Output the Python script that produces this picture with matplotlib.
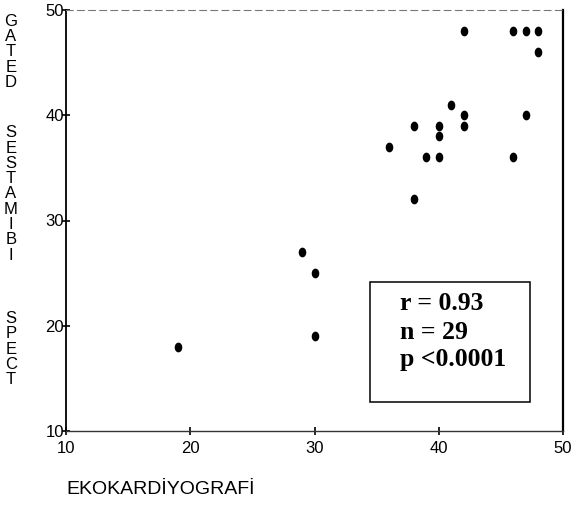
import matplotlib
matplotlib.use("Agg")
import matplotlib.pyplot as plt
import numpy as np
from matplotlib.path import Path
from matplotlib.patches import Rectangle

# ---- data ----
eko = [19, 29, 30, 30, 36, 38, 38, 39, 40, 40, 40, 41, 42, 42, 42, 46, 47, 48, 48, 47, 46]
spect = [18, 27, 25, 19, 37, 39, 32, 36, 36, 38, 39, 41, 40, 39, 48, 48, 48, 48, 46, 40, 36]
xticks = [10, 20, 30, 40, 50]
yticks = [10, 20, 30, 40, 50]
ylabel_words = ["GATED", "SESTAMIBI", "SPECT"]
xlabel = "EKOKARDİYOGRAFİ"
stats = ["r = 0.93", "n = 29", "p <0.0001"]

W, H = 576, 512
fig = plt.figure(figsize=(W / 100, H / 100), dpi=100)
ax = fig.add_axes([66 / W, 1 - 431 / H, (563 - 66) / W, (431 - 10) / H])

# elliptical marker (slightly taller than wide)
t = np.linspace(0, 2 * np.pi, 40)
ell = Path(np.column_stack([0.78 * np.cos(t), np.sin(t)]))
ax.plot(eko, spect, linestyle="none", marker=ell, markersize=7,
        color="black", markeredgewidth=0)

ax.set_xlim(10, 50)
ax.set_ylim(10, 50)
ax.set_xticks(xticks)
ax.set_yticks(yticks)
ax.set_xticklabels([str(v) for v in xticks], fontfamily="Liberation Sans", fontsize=12)
ax.set_yticklabels([str(v) for v in yticks], fontfamily="Liberation Sans", fontsize=12)
ax.tick_params(axis="y", direction="inout", length=6, width=1.2, pad=-1.5)
ax.tick_params(axis="x", direction="inout", length=6, width=1.2, pad=4)

ax.spines["left"].set_linewidth(1.3)
ax.spines["right"].set_linewidth(1.6)
ax.spines["bottom"].set_linewidth(1.0)
ax.spines["bottom"].set_color("#333333")
ax.spines["top"].set_linewidth(0.8)
ax.spines["top"].set_color("#777777")
ax.spines["top"].set_linestyle((0, (6, 4)))

# stats box
ax.add_patch(Rectangle((0.612, 0.069), 0.322, 0.285, transform=ax.transAxes,
                       fill=False, edgecolor="black", linewidth=1.1))
for s, yy in zip(stats, [0.304, 0.235, 0.169]):
    ax.text(0.672, yy, s, transform=ax.transAxes, va="center", ha="left",
            fontfamily="Liberation Serif", fontweight="bold", fontsize=18.5)

# vertical stacked y label
centers = [52, 194, 349]
for word, c in zip(ylabel_words, centers):
    n = len(word)
    for i, ch in enumerate(word):
        ypx = c + (i - (n - 1) / 2) * 15.3
        fig.text(11 / W, 1 - ypx / H, ch, ha="center", va="center",
                 fontfamily="Liberation Sans", fontsize=12)

fig.text(66 / W, 1 - 490 / H, xlabel, ha="left", va="center",
         fontfamily="Liberation Sans", fontsize=14)

fig.savefig("out.png", dpi=100)
